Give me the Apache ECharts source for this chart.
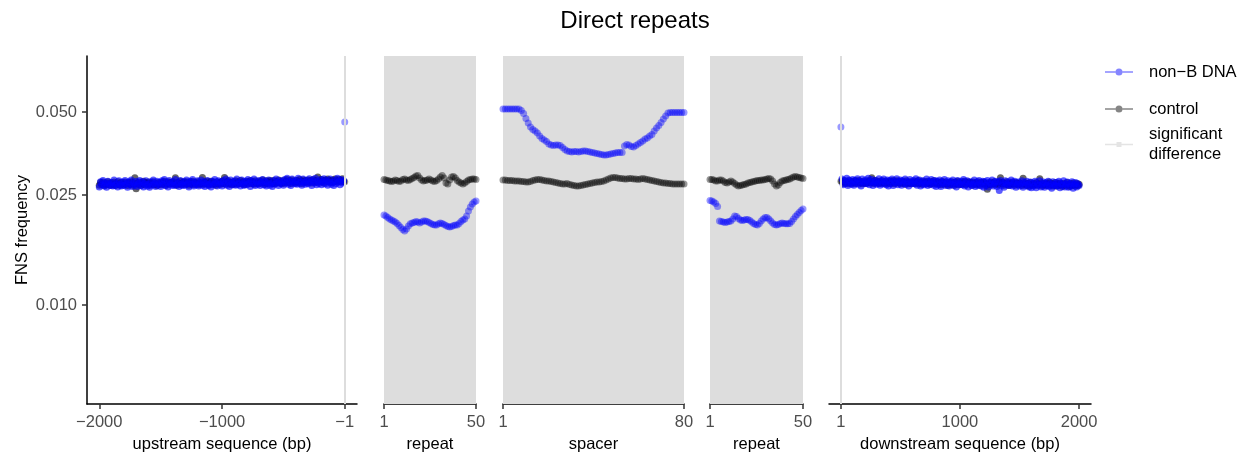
<!DOCTYPE html>
<html>
<head>
<meta charset="utf-8">
<script src="https://cdn.jsdelivr.net/npm/echarts@6/dist/echarts.min.js"></script>
<style>
  html, body { margin: 0; padding: 0; background: #ffffff; }
  #chart { width: 1248px; height: 459px; }
</style>
</head>
<body>
<div id="chart"></div>
<script>
// ---- FNS frequency per position, non-B DNA vs control ----

// Upstream flank: every 10 bp from -2000 to -10, then position -1
const upstreamNonB = [
  0.0268,0.0280,0.0273,0.0283,0.0270,0.0277,0.0267,0.0281,0.0275,0.0271,
  0.0278,0.0270,0.0284,0.0272,0.0276,0.0268,0.0282,0.0274,0.0270,0.0279,
  0.0271,0.0283,0.0275,0.0267,0.0280,0.0273,0.0284,0.0269,0.0277,0.0272,
  0.0281,0.0269,0.0276,0.0283,0.0271,0.0279,0.0268,0.0275,0.0282,0.0270,
  0.0274,0.0267,0.0280,0.0272,0.0284,0.0276,0.0269,0.0281,0.0273,0.0278,
  0.0269,0.0282,0.0274,0.0285,0.0271,0.0278,0.0268,0.0283,0.0276,0.0272,
  0.0280,0.0271,0.0285,0.0273,0.0277,0.0269,0.0283,0.0275,0.0271,0.0280,
  0.0272,0.0284,0.0276,0.0268,0.0281,0.0274,0.0285,0.0270,0.0278,0.0273,
  0.0282,0.0270,0.0277,0.0284,0.0272,0.0280,0.0269,0.0276,0.0283,0.0271,
  0.0275,0.0268,0.0281,0.0273,0.0285,0.0277,0.0270,0.0282,0.0274,0.0279,
  0.0270,0.0283,0.0275,0.0286,0.0272,0.0279,0.0269,0.0284,0.0277,0.0273,
  0.0281,0.0272,0.0286,0.0274,0.0278,0.0270,0.0284,0.0276,0.0272,0.0281,
  0.0273,0.0285,0.0277,0.0269,0.0282,0.0275,0.0286,0.0271,0.0279,0.0274,
  0.0283,0.0271,0.0278,0.0285,0.0273,0.0281,0.0270,0.0277,0.0284,0.0272,
  0.0276,0.0269,0.0282,0.0274,0.0286,0.0278,0.0271,0.0283,0.0275,0.0280,
  0.0272,0.0285,0.0277,0.0288,0.0274,0.0281,0.0271,0.0286,0.0279,0.0275,
  0.0283,0.0274,0.0288,0.0276,0.0280,0.0272,0.0286,0.0278,0.0274,0.0283,
  0.0275,0.0287,0.0279,0.0271,0.0284,0.0277,0.0288,0.0273,0.0281,0.0276,
  0.0285,0.0273,0.0280,0.0287,0.0275,0.0283,0.0272,0.0279,0.0286,0.0274,
  0.0278,0.0271,0.0284,0.0276,0.0288,0.0280,0.0273,0.0285,0.0277,0.0282,
  0.0461
];
const upstreamControl = [
  0.0272,0.0278,0.0274,0.0279,0.0271,0.0276,0.0273,0.0280,0.0275,0.0272,
  0.0277,0.0273,0.0279,0.0271,0.0276,0.0280,0.0274,0.0272,0.0278,0.0275,
  0.0273,0.0279,0.0275,0.0271,0.0278,0.0274,0.0280,0.0272,0.0276,0.0289,
  0.0264,0.0277,0.0274,0.0279,0.0272,0.0276,0.0281,0.0273,0.0278,0.0275,
  0.0279,0.0272,0.0277,0.0274,0.0280,0.0273,0.0276,0.0271,0.0278,0.0275,
  0.0273,0.0279,0.0275,0.0281,0.0272,0.0277,0.0280,0.0274,0.0278,0.0276,
  0.0279,0.0274,0.0289,0.0272,0.0278,0.0275,0.0281,0.0273,0.0277,0.0280,
  0.0274,0.0280,0.0276,0.0272,0.0279,0.0275,0.0281,0.0273,0.0278,0.0276,
  0.0280,0.0273,0.0277,0.0275,0.0290,0.0274,0.0279,0.0276,0.0281,0.0273,
  0.0277,0.0281,0.0274,0.0279,0.0276,0.0272,0.0280,0.0275,0.0278,0.0274,
  0.0281,0.0276,0.0290,0.0274,0.0279,0.0282,0.0275,0.0278,0.0273,0.0280,
  0.0276,0.0282,0.0274,0.0279,0.0277,0.0283,0.0275,0.0280,0.0273,0.0278,
  0.0281,0.0275,0.0279,0.0283,0.0276,0.0280,0.0274,0.0282,0.0277,0.0279,
  0.0275,0.0281,0.0277,0.0284,0.0278,0.0274,0.0282,0.0276,0.0280,0.0283,
  0.0279,0.0276,0.0283,0.0275,0.0281,0.0278,0.0284,0.0277,0.0280,0.0276,
  0.0283,0.0277,0.0281,0.0285,0.0278,0.0282,0.0276,0.0284,0.0280,0.0279,
  0.0277,0.0283,0.0279,0.0285,0.0281,0.0276,0.0284,0.0280,0.0282,0.0278,
  0.0284,0.0279,0.0282,0.0277,0.0285,0.0280,0.0283,0.0278,0.0291,0.0281,
  0.0279,0.0285,0.0281,0.0277,0.0284,0.0282,0.0286,0.0280,0.0283,0.0278,
  0.0284,0.0280,0.0286,0.0282,0.0279,0.0285,0.0281,0.0283,0.0287,0.0280,
  0.0280
];

// First repeat, positions 1..50
const repeat1NonB = [
  0.02122,0.02104,0.02078,0.02052,0.02035,0.02018,0.02002,0.01977,0.01944,0.01912,
  0.01880,0.01857,0.01888,0.01936,0.01969,0.01985,0.01993,0.02010,0.02002,0.01985,
  0.02002,0.02018,0.02018,0.02010,0.01993,0.01977,0.01960,0.01952,0.01952,0.01969,
  0.01985,0.01977,0.01960,0.01944,0.01928,0.01920,0.01928,0.01944,0.01952,0.01952,
  0.01977,0.02010,0.02035,0.02052,0.02104,0.02194,0.02268,0.02325,0.02364,0.02384
];
const repeat1Control = [
  0.02852,0.02840,0.02828,0.02816,0.02805,0.02816,0.02840,0.02828,0.02805,0.02816,
  0.02852,0.02864,0.02840,0.02828,0.02852,0.02876,0.02900,0.02936,0.02948,0.02887,
  0.02840,0.02816,0.02828,0.02840,0.02864,0.02840,0.02816,0.02805,0.02828,0.02864,
  0.02912,0.02948,0.02887,0.02770,0.02747,0.02840,0.02912,0.02924,0.02887,0.02828,
  0.02793,0.02770,0.02747,0.02770,0.02805,0.02840,0.02852,0.02864,0.02864,0.02852
];

// Spacer, positions 1..80
const spacerNonB = [
  0.05130,0.05130,0.05130,0.05130,0.05130,0.05130,0.05130,0.05130,0.05066,0.04941,
  0.04739,0.04565,0.04416,0.04325,0.04271,0.04200,0.04097,0.04012,0.03962,0.03913,
  0.03833,0.03801,0.03785,0.03801,0.03801,0.03785,0.03723,0.03661,0.03616,0.03601,
  0.03586,0.03601,0.03601,0.03586,0.03601,0.03616,0.03616,0.03601,0.03586,0.03571,
  0.03556,0.03541,0.03526,0.03512,0.03497,0.03497,0.03512,0.03526,0.03541,0.03556,
  0.03571,0.03571,0.03571,0.03769,0.03817,0.03801,0.03754,0.03738,0.03785,0.03833,
  0.03881,0.03929,0.03996,0.04029,0.04097,0.04148,0.04271,0.04379,0.04471,0.04584,
  0.04720,0.04839,0.04961,0.04982,0.04982,0.04982,0.04982,0.04982,0.04982,0.04982
];
const spacerControl = [
  0.02840,0.02840,0.02828,0.02828,0.02828,0.02816,0.02816,0.02816,0.02805,0.02805,
  0.02793,0.02793,0.02805,0.02828,0.02840,0.02852,0.02852,0.02840,0.02828,0.02816,
  0.02816,0.02805,0.02793,0.02782,0.02770,0.02759,0.02747,0.02747,0.02759,0.02736,
  0.02724,0.02713,0.02701,0.02701,0.02713,0.02724,0.02736,0.02747,0.02759,0.02770,
  0.02782,0.02793,0.02793,0.02805,0.02816,0.02840,0.02864,0.02887,0.02900,0.02900,
  0.02887,0.02876,0.02876,0.02864,0.02864,0.02876,0.02876,0.02864,0.02864,0.02852,
  0.02864,0.02876,0.02864,0.02852,0.02840,0.02828,0.02816,0.02805,0.02793,0.02782,
  0.02770,0.02770,0.02759,0.02759,0.02747,0.02747,0.02747,0.02747,0.02747,0.02747
];

// Second repeat, positions 1..50
const repeat2NonB = [
  0.02394,0.02384,0.02364,0.02335,0.02277,0.02018,0.02010,0.02002,0.01993,0.02002,
  0.02010,0.02018,0.02052,0.02104,0.02095,0.02061,0.02035,0.02027,0.02035,0.02044,
  0.02044,0.02027,0.02002,0.01977,0.01960,0.01952,0.01977,0.02018,0.02052,0.02078,
  0.02078,0.02052,0.02018,0.01985,0.01960,0.01952,0.01960,0.01977,0.01985,0.01977,
  0.01969,0.01969,0.01977,0.02010,0.02052,0.02095,0.02131,0.02166,0.02203,0.02230
];
const repeat2Control = [
  0.02852,0.02852,0.02840,0.02816,0.02816,0.02840,0.02840,0.02816,0.02782,0.02770,
  0.02793,0.02816,0.02793,0.02759,0.02724,0.02701,0.02713,0.02724,0.02736,0.02747,
  0.02770,0.02782,0.02793,0.02805,0.02816,0.02828,0.02828,0.02840,0.02840,0.02852,
  0.02864,0.02876,0.02864,0.02816,0.02747,0.02701,0.02724,0.02782,0.02816,0.02828,
  0.02840,0.02852,0.02864,0.02887,0.02912,0.02924,0.02912,0.02900,0.02887,0.02876
];

// Downstream flank: position 1, then every 10 bp from 10 to 2000
const downstreamNonB = [
  0.0442,
  0.0286,0.0273,0.0282,0.0276,0.0288,0.0271,0.0284,0.0278,0.0274,0.0285,
  0.0272,0.0283,0.0277,0.0287,0.0274,0.0281,0.0270,0.0286,0.0279,0.0275,
  0.0284,0.0276,0.0288,0.0273,0.0280,0.0285,0.0271,0.0278,0.0283,0.0274,
  0.0277,0.0287,0.0272,0.0282,0.0275,0.0286,0.0279,0.0273,0.0284,0.0270,
  0.0283,0.0275,0.0286,0.0271,0.0281,0.0277,0.0287,0.0273,0.0279,0.0284,
  0.0272,0.0282,0.0276,0.0286,0.0274,0.0280,0.0270,0.0285,0.0278,0.0275,
  0.0283,0.0275,0.0287,0.0272,0.0279,0.0284,0.0270,0.0277,0.0282,0.0273,
  0.0276,0.0286,0.0271,0.0281,0.0274,0.0285,0.0278,0.0272,0.0283,0.0269,
  0.0281,0.0273,0.0284,0.0269,0.0279,0.0275,0.0285,0.0271,0.0277,0.0282,
  0.0270,0.0280,0.0274,0.0284,0.0272,0.0278,0.0268,0.0283,0.0276,0.0273,
  0.0281,0.0273,0.0285,0.0270,0.0277,0.0282,0.0268,0.0275,0.0280,0.0271,
  0.0274,0.0284,0.0269,0.0279,0.0272,0.0283,0.0276,0.0270,0.0281,0.0267,
  0.0280,0.0272,0.0283,0.0268,0.0278,0.0274,0.0284,0.0270,0.0276,0.0281,
  0.0269,0.0279,0.0260,0.0283,0.0271,0.0277,0.0267,0.0282,0.0275,0.0272,
  0.0280,0.0272,0.0284,0.0270,0.0277,0.0281,0.0267,0.0274,0.0279,0.0270,
  0.0276,0.0282,0.0267,0.0278,0.0271,0.0281,0.0274,0.0268,0.0279,0.0266,
  0.0277,0.0270,0.0281,0.0266,0.0276,0.0272,0.0282,0.0268,0.0274,0.0279,
  0.0267,0.0277,0.0271,0.0281,0.0269,0.0275,0.0265,0.0280,0.0273,0.0270,
  0.0278,0.0270,0.0281,0.0266,0.0276,0.0272,0.0282,0.0268,0.0274,0.0279,
  0.0267,0.0276,0.0270,0.0280,0.0265,0.0274,0.0278,0.0268,0.0275,0.0271
];
const downstreamControl = [
  0.0281,
  0.0281,0.0276,0.0283,0.0277,0.0280,0.0275,0.0282,0.0278,0.0276,0.0281,
  0.0277,0.0282,0.0276,0.0280,0.0283,0.0277,0.0279,0.0275,0.0281,0.0278,
  0.0276,0.0281,0.0278,0.0282,0.0277,0.0289,0.0279,0.0276,0.0283,0.0278,
  0.0281,0.0276,0.0280,0.0277,0.0282,0.0278,0.0275,0.0281,0.0277,0.0280,
  0.0276,0.0281,0.0278,0.0283,0.0275,0.0279,0.0282,0.0277,0.0280,0.0276,
  0.0281,0.0277,0.0279,0.0274,0.0282,0.0278,0.0276,0.0280,0.0275,0.0279,
  0.0277,0.0281,0.0275,0.0279,0.0283,0.0276,0.0278,0.0274,0.0281,0.0277,
  0.0279,0.0275,0.0281,0.0277,0.0274,0.0280,0.0276,0.0282,0.0278,0.0275,
  0.0280,0.0275,0.0278,0.0273,0.0281,0.0277,0.0274,0.0279,0.0276,0.0272,
  0.0278,0.0274,0.0280,0.0276,0.0272,0.0279,0.0275,0.0281,0.0273,0.0277,
  0.0274,0.0279,0.0276,0.0281,0.0273,0.0277,0.0280,0.0275,0.0278,0.0272,
  0.0279,0.0275,0.0277,0.0273,0.0280,0.0276,0.0272,0.0278,0.0275,0.0279,
  0.0276,0.0272,0.0263,0.0277,0.0274,0.0279,0.0273,0.0276,0.0280,0.0274,
  0.0277,0.0273,0.0279,0.0289,0.0275,0.0278,0.0272,0.0276,0.0280,0.0274,
  0.0271,0.0277,0.0274,0.0279,0.0275,0.0272,0.0278,0.0276,0.0273,0.0277,
  0.0275,0.0271,0.0288,0.0274,0.0277,0.0272,0.0276,0.0270,0.0278,0.0274,
  0.0271,0.0276,0.0273,0.0278,0.0272,0.0275,0.0287,0.0274,0.0270,0.0276,
  0.0273,0.0277,0.0271,0.0275,0.0279,0.0272,0.0276,0.0270,0.0274,0.0278,
  0.0270,0.0275,0.0272,0.0277,0.0273,0.0269,0.0276,0.0271,0.0274,0.0278,
  0.0272,0.0269,0.0275,0.0271,0.0277,0.0273,0.0270,0.0276,0.0272,0.0274
];

// Positions with a significant difference, as [from, to] runs
const upstreamSignificant = [[-1, -1]];
const repeat1Significant = [[1, 50]];
const spacerSignificant = [[1, 80]];
const repeat2Significant = [[1, 50]];
const downstreamSignificant = [[1, 1]];

// Axis ticks
const upstreamTicks = [-2000, -1000, -1];
const repeatTicks = [1, 50];
const spacerTicks = [1, 80];
const downstreamTicks = [1, 1000, 2000];
const yTicks = [0.010, 0.025, 0.050];
const yLimits = [0.005, 0.07];

// Position vectors
const upstreamPos = upstreamNonB.map((_, i) => i < upstreamNonB.length - 1 ? -2000 + 10 * i : -1);
const downstreamPos = downstreamNonB.map((_, i) => i === 0 ? 1 : 10 * i);
const seqPos = (n) => Array.from({ length: n }, (_, i) => i + 1);

const FONT = '"Liberation Sans", Arial, Helvetica, sans-serif';
const BLUE = 'rgba(0, 0, 255, 0.5)';
const BLACK = 'rgba(0, 0, 0, 0.5)';
// the flanks are sampled every 10 bp, so their bands are drawn more opaque
const BLUE_FLANK = 'rgba(0, 0, 255, 0.8)';
const BLACK_FLANK = 'rgba(0, 0, 0, 0.75)';
const SIG_GREY = '#dddddd';

const NAME_NONB = 'non\u2212B DNA';
const NAME_CTRL = 'control';
const NAME_SIG = 'significant difference';

// continuous axes get a 5% expansion, the element axes none
function expanded(pos) {
  const lo = pos[0], hi = pos[pos.length - 1], pad = (hi - lo) * 0.05;
  return [lo - pad, hi + pad];
}
function exact(pos) { return [pos[0], pos[pos.length - 1]]; }

const panels = [
  { left: 87,  width: 270, pos: upstreamPos,   range: expanded(upstreamTicks),   ticks: upstreamTicks,   nonB: upstreamNonB,   ctrl: upstreamControl,   sig: upstreamSignificant,   flank: true,  name: 'upstream sequence (bp)' },
  { left: 384, width: 92,  pos: seqPos(50),    range: exact(seqPos(50)),         ticks: repeatTicks,     nonB: repeat1NonB,    ctrl: repeat1Control,    sig: repeat1Significant,    flank: false, name: 'repeat' },
  { left: 503, width: 181, pos: seqPos(80),    range: exact(seqPos(80)),         ticks: spacerTicks,     nonB: spacerNonB,     ctrl: spacerControl,     sig: spacerSignificant,     flank: false, name: 'spacer' },
  { left: 710, width: 93,  pos: seqPos(50),    range: exact(seqPos(50)),         ticks: repeatTicks,     nonB: repeat2NonB,    ctrl: repeat2Control,    sig: repeat2Significant,    flank: false, name: 'repeat' },
  { left: 829, width: 262, pos: downstreamPos, range: expanded(downstreamTicks), ticks: downstreamTicks, nonB: downstreamNonB, ctrl: downstreamControl, sig: downstreamSignificant, flank: true,  name: 'downstream sequence (bp)' }
];

// log-scale y limits with a 5% expansion
const logLo = Math.log10(yLimits[0]), logHi = Math.log10(yLimits[1]), logPad = (logHi - logLo) * 0.05;
const Y_MIN = Math.pow(10, logLo - logPad);
const Y_MAX = Math.pow(10, logHi + logPad);

const PANEL_TOP = 56, PANEL_H = 348;
const grids = [], xAxes = [], yAxes = [], series = [];

panels.forEach((p, i) => {
  grids.push({ left: p.left, width: p.width, top: PANEL_TOP, height: PANEL_H, containLabel: false });

  xAxes.push({
    gridIndex: i, type: 'value', min: p.range[0], max: p.range[1],
    splitLine: { show: false },
    axisLine: { show: true, onZero: false, lineStyle: { color: '#000', width: 1.5 } },
    axisTick: { show: true, customValues: p.ticks, length: 5, lineStyle: { color: '#333', width: 1.5 } },
    axisLabel: {
      show: true, customValues: p.ticks, margin: 10,
      formatter: (v) => String(Math.round(v)).replace('-', '\u2212'),
      color: '#4d4d4d', fontSize: 16.5, fontFamily: FONT
    },
    name: p.name, nameLocation: 'middle', nameGap: 31,
    nameTextStyle: { color: '#000', fontSize: 16.5, fontFamily: FONT }
  });

  yAxes.push({
    gridIndex: i, type: 'log', logBase: 10, min: Y_MIN, max: Y_MAX,
    show: i === 0,
    splitLine: { show: false },
    axisLine: { show: true, onZero: false, lineStyle: { color: '#000', width: 1.5 } },
    axisTick: { show: true, customValues: yTicks, length: 5, lineStyle: { color: '#333', width: 1.5 } },
    axisLabel: {
      show: true, customValues: yTicks, margin: 10,
      formatter: (v) => Number(v).toFixed(3),
      color: '#4d4d4d', fontSize: 16.5, fontFamily: FONT
    },
    name: i === 0 ? 'FNS frequency' : '', nameLocation: 'middle', nameGap: 56,
    nameTextStyle: { color: '#000', fontSize: 16.5, fontFamily: FONT }
  });

  // significant positions: single positions as lines, runs as shaded bands
  const singles = p.sig.filter(r => r[0] === r[1]).map(r => r[0]);
  const lines = singles.map(x => ({ xAxis: x }));
  const areas = p.sig.filter(r => r[0] !== r[1]).map(r => [{ xAxis: r[0] }, { xAxis: r[1] }]);
  series.push({
    name: NAME_SIG, type: 'scatter', xAxisIndex: i, yAxisIndex: i, z: 1,
    data: [], silent: true,
    itemStyle: { color: SIG_GREY },
    markLine: lines.length ? {
      silent: true, symbol: 'none', animation: false,
      label: { show: false },
      lineStyle: { color: SIG_GREY, width: 2, type: 'solid' },
      data: lines
    } : undefined,
    markArea: areas.length ? {
      silent: true, animation: false,
      itemStyle: { color: SIG_GREY },
      data: areas
    } : undefined
  });

  // isolated points on the flanks keep the plain point transparency
  const toPoints = (vals, plain) => vals.map((v, k) => {
    const item = { value: [p.pos[k], v] };
    if (p.flank && singles.indexOf(p.pos[k]) >= 0) item.itemStyle = { color: plain };
    return item;
  });

  series.push({
    name: NAME_CTRL, type: 'scatter', xAxisIndex: i, yAxisIndex: i, z: 2,
    symbolSize: 7, itemStyle: { color: p.flank ? BLACK_FLANK : BLACK },
    data: toPoints(p.ctrl, BLACK), animation: false, silent: true
  });
  series.push({
    name: NAME_NONB, type: 'scatter', xAxisIndex: i, yAxisIndex: i, z: 3,
    symbolSize: 7, itemStyle: { color: p.flank ? BLUE_FLANK : BLUE },
    data: toPoints(p.nonB, BLUE), animation: false, silent: true
  });
});

// legend keys: a point on a line, and a small square on a line for the significance marks
const ICON_POINT = 'path://M0,2.75L10.5,2.75L10.5,4.25L0,4.25Z M17.5,2.75L28,2.75L28,4.25L17.5,4.25Z M14,0A3.5,3.5 0 1 1 14,7A3.5,3.5 0 1 1 14,0Z';
const ICON_SQUARE = 'path://M0,1.75L11.5,1.75L11.5,3.25L0,3.25Z M16.5,1.75L28,1.75L28,3.25L16.5,3.25Z M11.5,0L16.5,0L16.5,5L11.5,5Z';

const legendBase = {
  orient: 'vertical', left: 1105, padding: 0, itemWidth: 28, selectedMode: false,
  textStyle: { color: '#000', fontSize: 16.5, fontFamily: FONT, padding: [0, 0, 0, 11] }
};

const chart = echarts.init(document.getElementById('chart'), null, { renderer: 'canvas' });
chart.setOption({
  backgroundColor: '#ffffff',
  animation: false,
  title: {
    text: 'Direct repeats', left: 635, top: 9, padding: 0, textAlign: 'center',
    textStyle: { color: '#000', fontSize: 24, fontWeight: 'normal', fontFamily: FONT }
  },
  legend: [
    Object.assign({}, legendBase, { top: 63.5, itemHeight: 7,
      data: [{ name: NAME_NONB, icon: ICON_POINT, itemStyle: { color: 'rgba(0,0,255,0.6)' } }] }),
    Object.assign({}, legendBase, { top: 100.5, itemHeight: 7,
      data: [{ name: NAME_CTRL, icon: ICON_POINT, itemStyle: { color: 'rgba(0,0,0,0.6)' } }] }),
    Object.assign({}, legendBase, { top: 125, itemHeight: 5,
      formatter: () => 'significant\ndifference',
      textStyle: Object.assign({}, legendBase.textStyle, { lineHeight: 19.5 }),
      data: [{ name: NAME_SIG, icon: ICON_SQUARE, itemStyle: { color: SIG_GREY } }] })
  ],
  grid: grids,
  xAxis: xAxes,
  yAxis: yAxes,
  series: series
});
</script>
</body>
</html>
